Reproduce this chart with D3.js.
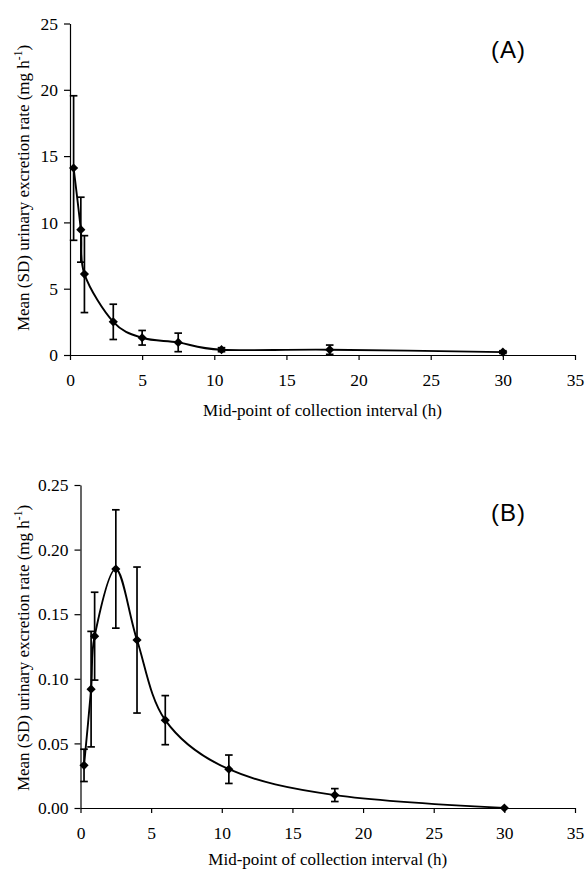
<!DOCTYPE html>
<html>
<head>
<meta charset="utf-8">
<script src="https://cdn.jsdelivr.net/npm/d3@7"></script>
<style>
  body { margin: 0; background: #fff; }
  svg { display: block; }
</style>
</head>
<body>
<div id="chart"></div>
<script>
// panel A data
var timeA = [0.25, 0.75, 1, 3, 5, 7.5, 10.5, 18, 30];
var meanA = [14.1, 9.45, 6.1, 2.5, 1.3, 0.95, 0.4, 0.4, 0.22];
var sdA = [5.45, 2.45, 2.9, 1.33, 0.55, 0.7, 0.15, 0.35, 0.1];

// panel B data
var timeB = [0.25, 0.75, 1, 2.5, 4, 6, 10.5, 18, 30];
var meanB = [0.033, 0.092, 0.133, 0.185, 0.130, 0.068, 0.030, 0.010, 0.0];
var sdB = [0.0125, 0.0447, 0.034, 0.0458, 0.0565, 0.019, 0.011, 0.005, 0];

var xTicks = [0, 5, 10, 15, 20, 25, 30, 35];
var yTicksA = [0, 5, 10, 15, 20, 25];
var yTicksB = [0, 0.05, 0.10, 0.15, 0.20, 0.25];

var width = 585, height = 872;
var serif = "'Liberation Serif', 'Times New Roman', serif";

var svg = d3.select("#chart")
  .append("svg")
  .attr("width", width)
  .attr("height", height);

function panel(opts) {
  var x = d3.scaleLinear().domain([0, 35]).range([opts.left, 575]);
  var y = d3.scaleLinear().domain([0, opts.ymax]).range([opts.bottom, opts.top]);

  var g = svg.append("g");

  // axes
  var xAxis = g.append("g")
    .attr("transform", "translate(0," + opts.bottom + ")")
    .call(d3.axisBottom(x).tickValues(xTicks).tickSize(5).tickSizeOuter(0).tickPadding(14)
      .tickFormat(d3.format("d")));
  var yAxis = g.append("g")
    .attr("transform", "translate(" + opts.left + ",0)")
    .call(d3.axisLeft(y).tickValues(opts.yTicks).tickSize(6).tickSizeOuter(0).tickPadding(6)
      .tickFormat(opts.fmt));

  [xAxis, yAxis].forEach(function (a) {
    a.selectAll("path, line").attr("stroke", "#000").attr("stroke-width", 1.2);
    a.selectAll("text")
      .attr("fill", "#000")
      .style("font-family", serif)
      .style("font-size", "17.5px");
  });

  var data = opts.t.map(function (t, i) {
    return { t: t, m: opts.m[i], sd: opts.sd[i] };
  });

  // error bars
  var eb = g.selectAll(".eb")
    .data(data.filter(function (d) { return d.sd > 0; }))
    .enter()
    .append("g");
  eb.append("line")
    .attr("x1", function (d) { return x(d.t); })
    .attr("x2", function (d) { return x(d.t); })
    .attr("y1", function (d) { return y(d.m + d.sd); })
    .attr("y2", function (d) { return y(Math.max(0, d.m - d.sd)); });
  eb.append("line")
    .attr("x1", function (d) { return x(d.t) - 3.8; })
    .attr("x2", function (d) { return x(d.t) + 3.8; })
    .attr("y1", function (d) { return y(d.m + d.sd); })
    .attr("y2", function (d) { return y(d.m + d.sd); });
  eb.append("line")
    .attr("x1", function (d) { return x(d.t) - 3.8; })
    .attr("x2", function (d) { return x(d.t) + 3.8; })
    .attr("y1", function (d) { return y(Math.max(0, d.m - d.sd)); })
    .attr("y2", function (d) { return y(Math.max(0, d.m - d.sd)); });
  eb.selectAll("line").attr("stroke", "#000").attr("stroke-width", 1.7);

  // smoothed line
  var line = d3.line()
    .x(function (d) { return x(d.t); })
    .y(function (d) { return y(d.m); })
    .curve(d3.curveCardinal.tension(0));
  g.append("path")
    .datum(data)
    .attr("d", line)
    .attr("fill", "none")
    .attr("stroke", "#000")
    .attr("stroke-width", 1.9);

  // diamond markers
  g.selectAll(".pt")
    .data(data)
    .enter()
    .append("path")
    .attr("d", d3.symbol().type(d3.symbolSquare).size(42))
    .attr("transform", function (d) {
      return "translate(" + x(d.t) + "," + y(d.m) + ") rotate(45)";
    })
    .attr("fill", "#000");

  // axis titles
  g.append("text")
    .attr("x", (opts.left + 575) / 2)
    .attr("y", opts.titleY)
    .attr("text-anchor", "middle")
    .style("font-family", serif)
    .style("font-size", "17px")
    .text("Mid-point of collection interval (h)");

  var yt = g.append("text")
    .attr("transform", "translate(" + 29 + "," + opts.ymid + ") rotate(-90)")
    .attr("text-anchor", "middle")
    .style("font-family", serif)
    .style("font-size", "17px");
  yt.append("tspan").text("Mean (SD) urinary excretion rate (mg h");
  yt.append("tspan").attr("dy", -7).style("font-size", "11.5px").text("-1");
  yt.append("tspan").attr("dy", 7).text(")");

  // panel label
  g.append("text")
    .attr("x", 508.5)
    .attr("y", opts.labelY)
    .attr("text-anchor", "middle")
    .style("font-family", "'Liberation Sans', Arial, sans-serif")
    .style("font-size", "24px")
    .style("letter-spacing", "1px")
    .text(opts.label);
}

panel({
  t: timeA, m: meanA, sd: sdA,
  left: 70, top: 23.5, bottom: 355, ymax: 25,
  yTicks: yTicksA, fmt: d3.format("d"),
  titleY: 416, ymid: 188,
  label: "(A)", labelY: 58
});

panel({
  t: timeB, m: meanB, sd: sdB,
  left: 80.5, top: 485, bottom: 808, ymax: 0.25,
  yTicks: yTicksB, fmt: d3.format(".2f"),
  titleY: 865, ymid: 648,
  label: "(B)", labelY: 521
});
</script>
</body>
</html>
